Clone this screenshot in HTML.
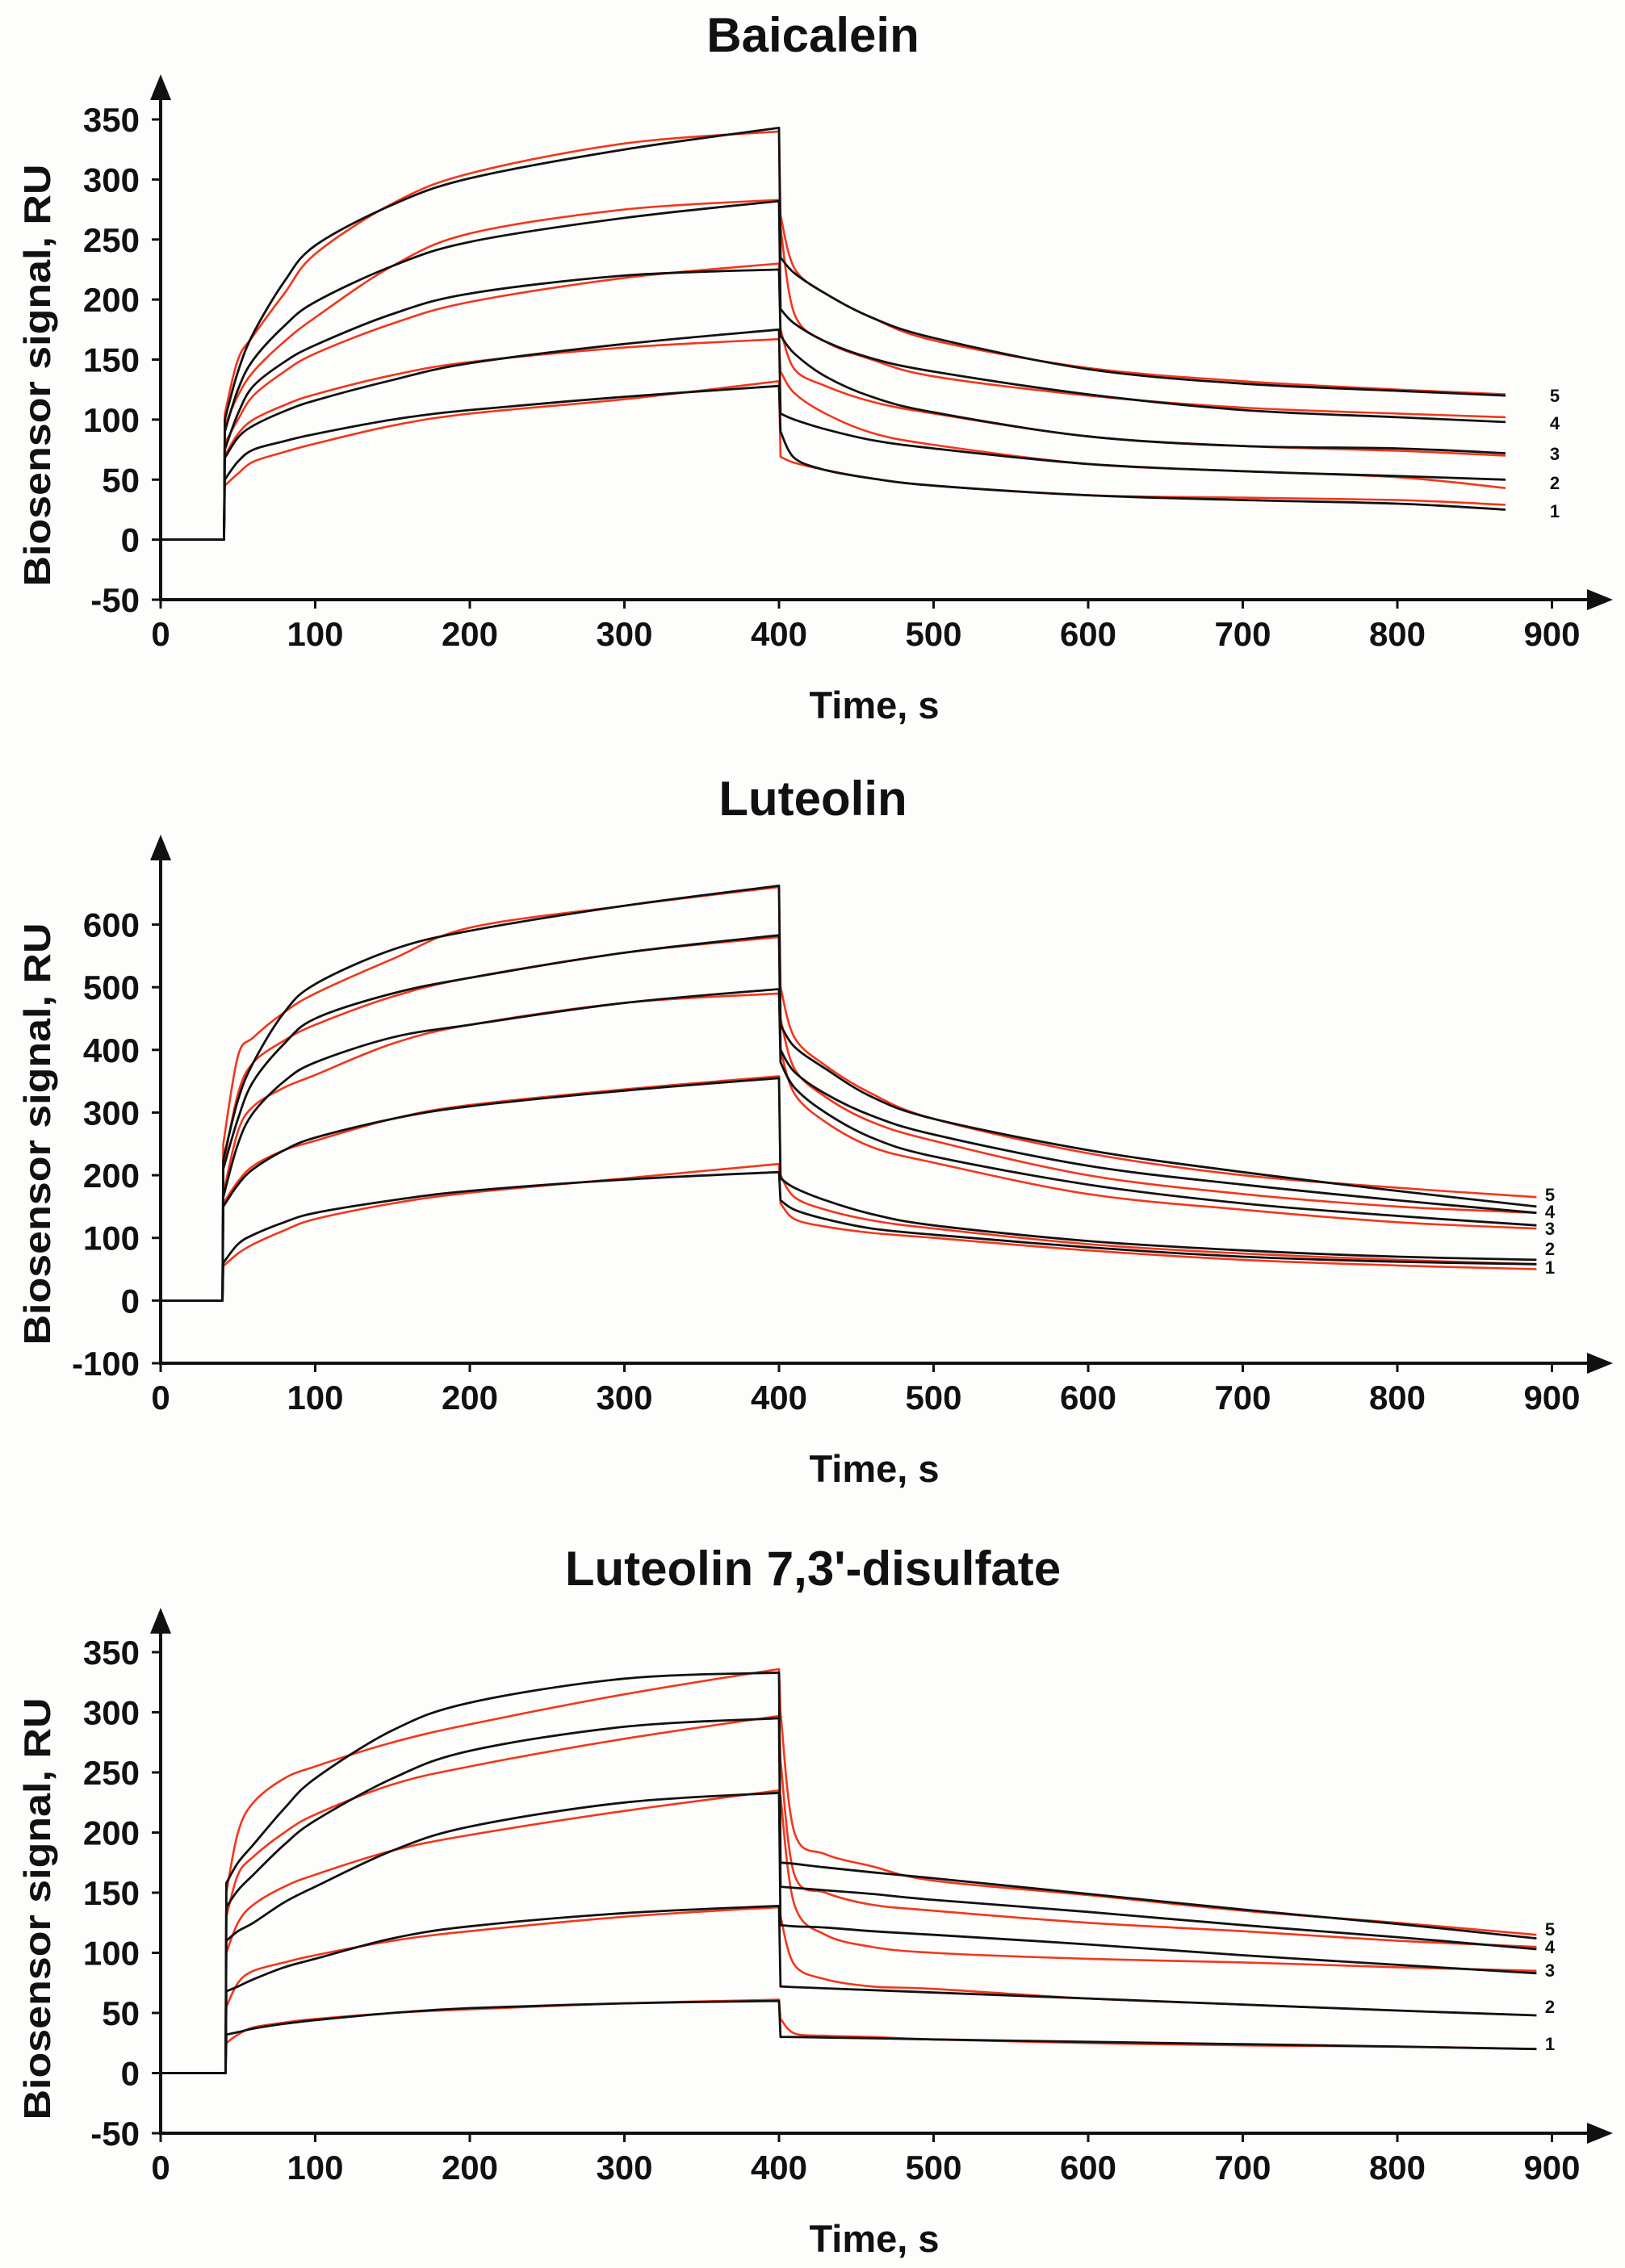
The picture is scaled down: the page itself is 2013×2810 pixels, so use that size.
<!DOCTYPE html>
<html><head><meta charset="utf-8"><style>
html,body{margin:0;padding:0;background:#fdfdfc;}
svg{display:block;font-family:"Liberation Sans",sans-serif;font-weight:bold;}
</style></head><body>
<svg id="chart" width="2013" height="2810" viewBox="0 0 2013 2810" xmlns="http://www.w3.org/2000/svg"></svg>
<script>
// shared sample times: baseline (0,1), association (2..10), dissociation (11..19)
const times1 = [0,41,41.5,50,60,80,100,150,200,300,400,401,410,430,460,500,600,700,800,870];
const times2 = [0,40,40.5,50,60,80,100,150,200,300,400,401,410,430,460,500,600,700,800,890];
const times3 = [0,42,42.5,50,60,80,100,150,200,300,400,401,410,430,460,500,600,700,800,890];
const xTicks = [0,100,200,300,400,500,600,700,800,900];
const yTicks1 = [-50,0,50,100,150,200,250,300,350];
const yTicks2 = [-100,0,100,200,300,400,500,600];
const yTicks3 = [-50,0,50,100,150,200,250,300,350];
const titles = ["Baicalein","Luteolin","Luteolin 7,3'-disulfate"];
const seriesNames = ["1","2","3","4","5"];

// Baicalein
const p1Fit1=[0,0,50,65,75,82,88,100,108,119,128,90,68,58,51,45,37,33,30,25];
const p1Exp1=[0,0,45,55,65,73,80,95,105,117,132,69,64,58,51,45,37,35,33,29];
const p1Fit2=[0,0,68,85,95,107,116,133,147,163,175,105,100,92,83,76,63,57,53,50];
const p1Exp2=[0,0,70,88,100,112,121,137,148,160,167,140,122,105,89,79,63,57,52,43];
const p1Fit3=[0,0,75,105,128,148,162,188,205,220,225,170,155,136,119,106,86,78,76,72];
const p1Exp3=[0,0,80,100,120,140,155,180,198,218,230,175,142,128,115,105,86,78,74,70];
const p1Fit4=[0,0,90,125,150,178,198,228,248,268,282,192,180,165,151,140,121,108,102,98];
const p1Exp4=[0,0,95,120,140,165,185,228,255,275,283,260,188,165,150,136,120,110,105,102];
const p1Fit5=[0,0,100,140,172,215,245,279,301,325,343,235,222,205,185,168,142,130,124,120];
const p1Exp5=[0,0,105,150,170,205,238,280,305,330,340,270,226,205,185,166,143,132,125,121];
// Luteolin
const p2Fit1=[0,0,60,90,105,125,140,160,175,193,205,160,145,130,115,105,85,70,62,58];
const p2Exp1=[0,0,55,75,90,112,130,155,172,195,218,155,130,118,108,100,80,65,56,50];
const p2Fit2=[0,0,150,185,210,240,260,290,310,335,355,195,180,160,138,120,95,80,70,65];
const p2Exp2=[0,0,155,190,215,240,255,290,312,337,358,200,165,145,128,115,90,75,65,58];
const p2Fit3=[0,0,165,250,300,350,380,420,440,475,497,380,340,300,260,230,185,155,135,120];
const p2Exp3=[0,0,170,270,310,340,360,410,440,475,490,400,330,285,245,220,170,145,125,115];
const p2Fit4=[0,0,210,290,350,410,450,490,515,555,583,400,365,330,295,265,215,185,160,140];
const p2Exp4=[0,0,215,330,380,415,440,485,515,555,580,450,370,325,285,255,200,170,150,140];
const p2Fit5=[0,0,225,320,380,460,505,560,590,630,662,440,405,370,325,290,240,205,175,150];
const p2Exp5=[0,0,250,390,420,460,490,545,595,630,660,500,420,375,330,290,235,200,180,165];
// Luteolin 7,3'-disulfate
const p3Fit1=[0,0,32,34,37,41,44,50,54,58,60,30,30,29.5,29,28,26,24,22,20];
const p3Exp1=[0,0,25,32,38,42,45,50,53,58,61,45,33,31,30,28,25,23,22,20];
const p3Fit2=[0,0,68,72,78,88,95,112,122,133,139,72,71.5,70.5,69,67,62,57,52,48];
const p3Exp2=[0,0,55,75,85,92,98,110,118,130,138,130,90,78,72,70,62,57,52,48];
const p3Fit3=[0,0,110,118,125,142,155,185,205,225,233,123,122,121,118,115,107,98,90,83];
const p3Exp3=[0,0,100,125,140,155,165,185,198,218,235,230,140,115,105,100,95,92,88,85];
const p3Fit4=[0,0,138,152,165,190,210,245,268,288,295,155,154,152,149,144,134,123,113,103];
const p3Exp4=[0,0,130,165,180,200,215,240,255,278,297,260,165,150,140,135,125,118,110,105];
const p3Fit5=[0,0,158,175,190,220,245,285,308,328,333,175,174,171,167,162,149,136,124,112];
const p3Exp5=[0,0,150,200,225,245,255,275,290,315,336,300,200,182,172,160,148,135,125,115];

const svg=document.getElementById('chart');
const NS='http://www.w3.org/2000/svg';
function mk(tag,attrs,parent){const e=document.createElementNS(NS,tag);for(const k in attrs)e.setAttribute(k,attrs[k]);(parent||svg).appendChild(e);return e;}

const panels=[
 {times:times1,yTicks:yTicks1,ymin:-50,ymax:350,yTop:148,yBot:743,arrow:92,fits:[p1Fit1,p1Fit2,p1Fit3,p1Fit4,p1Fit5],exps:[p1Exp1,p1Exp2,p1Exp3,p1Exp4,p1Exp5],labY:[633,598,562,524,490],labX:1926,ylabY:465},
 {times:times2,yTicks:yTicks2,ymin:-100,ymax:600,yTop:1145.5,yBot:1689,arrow:1034,fits:[p2Fit1,p2Fit2,p2Fit3,p2Fit4,p2Fit5],exps:[p2Exp1,p2Exp2,p2Exp3,p2Exp4,p2Exp5],labY:[1570,1547,1522,1501,1480],labX:1920,ylabY:1405},
 {times:times3,yTicks:yTicks3,ymin:-50,ymax:350,yTop:2047,yBot:2643,arrow:1992,fits:[p3Fit1,p3Fit2,p3Fit3,p3Fit4,p3Fit5],exps:[p3Exp1,p3Exp2,p3Exp3,p3Exp4,p3Exp5],labY:[2532,2486,2441,2412,2390],labX:1920,ylabY:2365}
];
const X0=199, XS=1.915;

function smooth(pts){
  let d='';
  for(let i=0;i<pts.length-1;i++){
    const p0=pts[i-1]||pts[i],p1=pts[i],p2=pts[i+1],p3=pts[i+2]||p2;
    const c1x=p1[0]+(p2[0]-p0[0])/6,c1y=p1[1]+(p2[1]-p0[1])/6;
    const c2x=p2[0]-(p3[0]-p1[0])/6,c2y=p2[1]-(p3[1]-p1[1])/6;
    d+=` C${c1x.toFixed(1)},${c1y.toFixed(1)} ${c2x.toFixed(1)},${c2y.toFixed(1)} ${p2[0].toFixed(1)},${p2[1].toFixed(1)}`;
  }
  return d;
}

panels.forEach((P,pi)=>{
  const g=mk('g',{});
  
  
  const ys=(P.yBot-P.yTop)/(P.ymax-P.ymin);
  const xS=t=>X0+t*XS;
  const yS=v=>P.yBot-(v-P.ymin)*ys;
  const t=mk('text',{x:1007,y:P.yBot-679,'text-anchor':'middle','font-size':60,fill:'#111'},g);
  t.textContent=titles[pi];
  
  
  function draw(arr,color,w,name){
    const pts=P.times.map((tt,i)=>[xS(tt),yS(arr[i])]);
    let d=`M${pts[0][0]},${pts[0][1]} L${pts[1][0]},${pts[1][1]} L${pts[2][0].toFixed(1)},${pts[2][1].toFixed(1)}`;
    d+=smooth(pts.slice(2,11));
    d+=` L${pts[11][0].toFixed(1)},${pts[11][1].toFixed(1)}`;
    d+=smooth(pts.slice(11));
    const p=mk('path',{d:d,fill:'none',stroke:color,'stroke-width':w,'stroke-linejoin':'round'},g);
    
    
  }
  P.exps.forEach((a,i)=>draw(a,'#f2361c',2.6,'experimental-curve-'+(i+1)));
  P.fits.forEach((a,i)=>draw(a,'#111',2.8,'fit-curve-'+(i+1)));
  const xa=mk('line',{x1:X0,y1:P.yBot,x2:1985,y2:P.yBot,stroke:'#111','stroke-width':4},g);
  
  
  const xh=mk('polygon',{points:`1998,${P.yBot} 1966,${P.yBot-13} 1966,${P.yBot+13}`,fill:'#111'},g);
  
  
  const ya=mk('line',{x1:X0,y1:P.yBot+2,x2:X0,y2:P.arrow+20,stroke:'#111','stroke-width':4},g);
  
  
  const yh=mk('polygon',{points:`${X0},${P.arrow} ${X0-13},${P.arrow+32} ${X0+13},${P.arrow+32}`,fill:'#111'},g);
  
  
  xTicks.forEach(v=>{
    const x=xS(v);
    const l=mk('line',{x1:x,y1:P.yBot,x2:x,y2:P.yBot+11,stroke:'#111','stroke-width':3},g);
    
    
    const tx=mk('text',{x:x,y:P.yBot+57,'text-anchor':'middle','font-size':42,fill:'#111'},g);
    tx.textContent=v;
    
    
  });
  P.yTicks.forEach(v=>{
    const y=yS(v);
    const l=mk('line',{x1:X0-11,y1:y,x2:X0,y2:y,stroke:'#111','stroke-width':3},g);
    
    
    const tx=mk('text',{x:173,y:y+15,'text-anchor':'end','font-size':42,fill:'#111'},g);
    tx.textContent=v;
    
    
  });
  const xl=mk('text',{x:1083,y:P.yBot+147,'text-anchor':'middle','font-size':47,fill:'#111'},g);
  xl.textContent='Time, s';
  
  
  const yl=mk('text',{x:0,y:0,'text-anchor':'middle','font-size':46,fill:'#111',textLength:523,lengthAdjust:'spacingAndGlyphs',transform:`translate(62,${P.ylabY}) rotate(-90)`},g);
  yl.textContent='Biosensor signal, RU';
  
  
  seriesNames.forEach((s,i)=>{
    const tx=mk('text',{x:P.labX,y:P.labY[i]+8,'text-anchor':'middle','font-size':22,fill:'#111'},g);
    tx.textContent=s;
    
    
  });
});
</script>
</body></html>
